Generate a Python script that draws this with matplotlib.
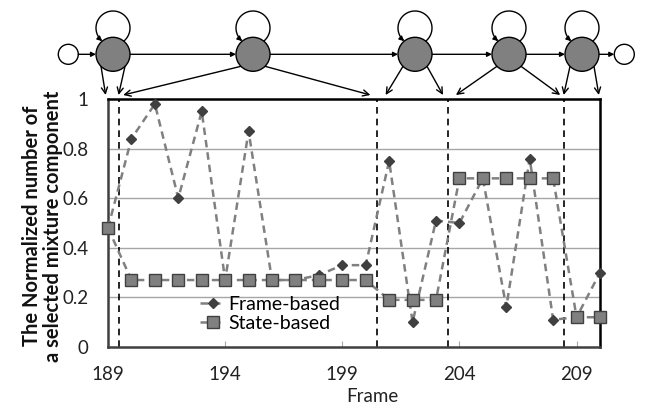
import numpy as np
import matplotlib
matplotlib.use("Agg")
import matplotlib.pyplot as plt
from matplotlib.patches import Circle, FancyArrowPatch
from matplotlib.path import Path

# ---------------- data ----------------
frames = list(range(189, 211))
frame_based = [0.48, 0.84, 0.98, 0.60, 0.95, 0.27, 0.87, 0.27, 0.27, 0.29, 0.33,
               0.33, 0.75, 0.10, 0.51, 0.50, 0.68, 0.16, 0.76, 0.11, 0.12, 0.30]
state_based = [0.48] + [0.27] * 11 + [0.19] * 3 + [0.68] * 5 + [0.12] * 2
state_boundaries = [189.45, 200.48, 203.5, 208.45]
# frames each state's emission arrows point to (left, right)
state_arrow_frames = [(188.9, 189.45), (189.65, 200.2), (200.85, 203.3),
                      (203.85, 208.3), (208.45, 209.95)]
xticks = [189, 194, 199, 204, 209]
yticks = [0, 0.2, 0.4, 0.6, 0.8, 1.0]
ytick_labels = ["0", "0.2", "0.4", "0.6", "0.8", "1"]
legend_labels = ["Frame-based", "State-based"]

plt.rcParams['font.family'] = ['Lato', 'DejaVu Sans']

W, H = 645, 404
fig = plt.figure(figsize=(W / 100, H / 100), dpi=100)
ax = fig.add_axes([108 / W, 1 - 347 / H, 492 / W, 248 / H])

ax.set_xlim(189, 210)
ax.set_ylim(0, 1)

for yv in yticks[1:-1]:
    ax.axhline(yv, color='#a6a6a6', lw=1, zorder=1)
for b in state_boundaries:
    ax.axvline(b, color='black', lw=1.2, ls=(0, (4, 3)), zorder=2)

ax.plot(frames, frame_based, ls=(0, (3, 2)), color='#808080', lw=1.8,
        marker='D', ms=5.6, mfc='#404040', mec='#404040', zorder=3,
        clip_on=False, label=legend_labels[0])
ax.plot(frames, state_based, ls=(0, (3, 2)), color='#808080', lw=1.8,
        marker='s', ms=8, mfc='#808080', mec='#404040', mew=1, zorder=4,
        clip_on=False, label=legend_labels[1])

ax.set_xticks(xticks)
ax.set_xticklabels([str(t) for t in xticks])
ax.set_yticks(yticks)
ax.set_yticklabels(ytick_labels)
ax.tick_params(axis='x', direction='in', length=4, color='#a6a6a6',
               pad=14, labelsize=13.5, labelcolor='#222222')
ax.tick_params(axis='y', length=0, pad=14, labelsize=13.5, labelcolor='#222222')

for s in ['top', 'right']:
    ax.spines[s].set_color('black')
    ax.spines[s].set_linewidth(1.8)
for s in ['left', 'bottom']:
    ax.spines[s].set_color('#404040')
    ax.spines[s].set_linewidth(1.8)

leg = ax.legend(loc='upper left', bbox_to_anchor=(0.187, 0.205),
                borderaxespad=0, frameon=False, fontsize=14,
                handlelength=1.3, handletextpad=0.15, labelspacing=0.1,
                borderpad=0)

fig.text(372 / W, 1 - 396 / H, "Frame", ha='center', va='center',
         fontsize=13.5, color='#222222')
fig.text(42.5 / W, 1 - 226 / H,
         "The Normalized number of\na selected mixture component",
         rotation=90, ha='center', va='center', multialignment='center',
         fontsize=14.5, fontweight='bold', color='#111111', linespacing=1.1)

# ---------------- HMM diagram on top ----------------
ov = fig.add_axes([0, 0, 1, 1], zorder=10)
ov.set_xlim(0, W)
ov.set_ylim(H, 0)
ov.axis('off')
ov.patch.set_alpha(0)

cy = 54.3
r = 17
state_x = [113, 253, 415, 509, 582]
start_x, end_x, r_small = 68.3, 624.3, 10
tip_y = 95

ov.add_patch(Circle((start_x, cy), r_small, fc='white', ec='black', lw=1))
ov.add_patch(Circle((end_x, cy), r_small, fc='white', ec='black', lw=1))
for cx in state_x:
    ov.add_patch(Circle((cx, cy), r, fc='#808080', ec='black', lw=1, zorder=3))

# horizontal transitions
chain = [(start_x, r_small)] + [(x, r) for x in state_x] + [(end_x, r_small)]
for (x1, r1), (x2, r2) in zip(chain[:-1], chain[1:]):
    ov.add_patch(FancyArrowPatch((x1 + r1, cy), (x2 - r2, cy), arrowstyle='-|>',
                                 mutation_scale=7, lw=1, color='black',
                                 shrinkA=0, shrinkB=0, zorder=2))

# self loops
R = 17
lcy = cy - 26.3
t = np.radians(np.linspace(-50.7, 230.7, 60))
for cx in state_x:
    verts = np.column_stack([cx + R * np.cos(t), lcy - R * np.sin(t)])
    ov.add_patch(FancyArrowPatch(path=Path(verts), arrowstyle='-|>',
                                 mutation_scale=7, lw=1, color='black', zorder=2))

# emission arrows to the frames
for cx, (fl, fr) in zip(state_x, state_arrow_frames):
    for f, side in ((fl, -1), (fr, 1)):
        tx = ax.transData.transform((f, 1))[0]
        ov.add_patch(FancyArrowPatch((cx + side * 12, cy + 12), (tx, tip_y),
                                     arrowstyle='->', mutation_scale=11, lw=1,
                                     color='black', shrinkA=0, shrinkB=0,
                                     zorder=2))

fig.savefig("out.png", dpi=100)
